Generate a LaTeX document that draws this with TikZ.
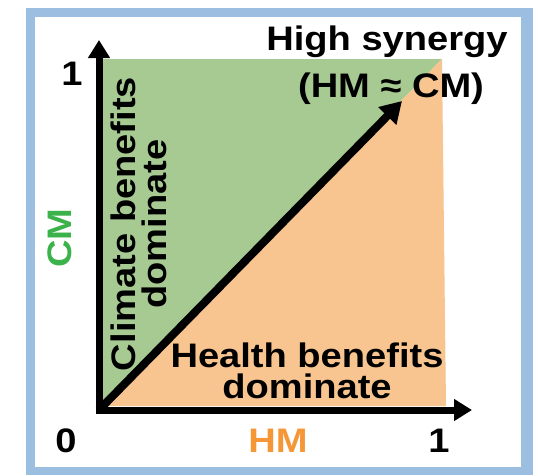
\documentclass[tikz,border=0pt]{standalone}
\usepackage{fontspec}
\setmainfont{Liberation Sans}[FakeStretch=1.12]
\usetikzlibrary{arrows.meta}
\definecolor{climGreen}{RGB}{166,202,146}
\definecolor{healthOrange}{RGB}{248,196,143}
\definecolor{frameBlue}{RGB}{155,190,225}
\definecolor{cmGreen}{RGB}{60,178,75}
\definecolor{hmOrange}{RGB}{245,150,55}
\begin{document}
\begin{tikzpicture}[x=1pt, y=-1pt, font=\bfseries\fontsize{34}{31}\selectfont,
  axis/.style={line width=7pt, -{Triangle[length=18pt, width=21pt]}},
  lbl/.style={inner sep=0pt, align=center}]
\useasboundingbox (0,0) rectangle (538,475);
% frame
\fill[frameBlue] (26,7.5) rectangle (533,475);
\fill[white] (35,17) rectangle (521,467);
% regions
\fill[climGreen] (103,59) -- (442,59) -- (103,406) -- cycle;
\fill[healthOrange] (103,406) -- (442,59) -- (446,406) -- cycle;
% axes
\coordinate (origin) at (99,410);
\coordinate (yfoot) at (99,413.5);
\coordinate (xfoot) at (95.5,410);
\coordinate (ytip) at (99,40);
\coordinate (xtip) at (472,410);
\coordinate (syn) at (402,101);
\draw[axis] (yfoot) -- (ytip);
\draw[axis] (xfoot) -- (xtip);
\draw[line width=8pt, -{Triangle[length=21pt, width=24pt]}] (origin) -- (syn);
% labels
\node[lbl, anchor=base] (zero) at (66,452) {0};
\node[lbl, anchor=base] (yone) at (72,85) {1};
\node[lbl, anchor=base] (xone) at (439,452) {1};
\node[lbl, anchor=base, text=hmOrange] (hm) at (278,452) {HM};
\node[lbl, rotate=90, text=cmGreen] (cm) at (60,238) {CM};
\node[lbl, anchor=base] (high) at (387,50) {High synergy};
\node[lbl, anchor=base] (approx) at (391,97) {(HM ≈ CM)};
\node[lbl, rotate=90] (climate) at (139,224) {Climate benefits\\dominate};
\node[lbl] (health) at (307,371) {Health benefits\\dominate};
\end{tikzpicture}
\end{document}
